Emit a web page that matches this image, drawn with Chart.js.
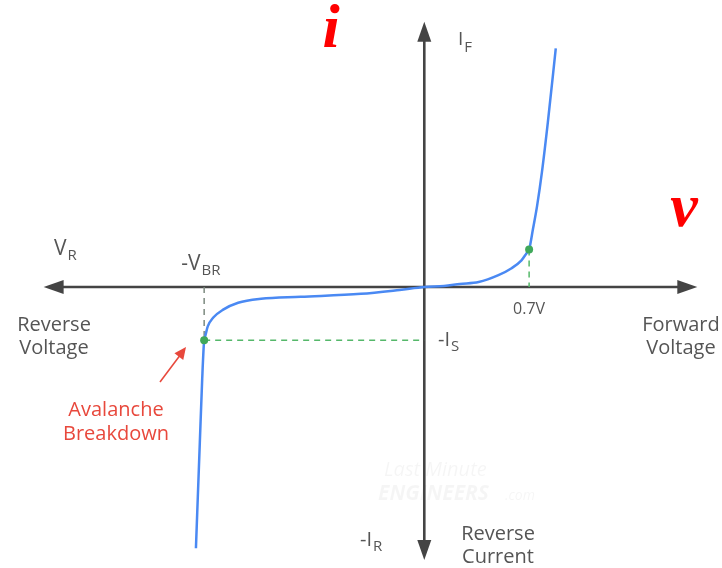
<!DOCTYPE html>
<html>
<head>
<meta charset="utf-8">
<title>Diode V-I characteristic</title>
<script src="https://cdn.jsdelivr.net/npm/chart.js@4.4.1/dist/chart.umd.min.js"></script>
<style>
  html, body { margin: 0; padding: 0; background: #ffffff; }
  #wrap { width: 722px; height: 568px; position: relative; }
</style>
</head>
<body>
<div id="wrap"><canvas id="ivChart" width="722" height="568"></canvas></div>
<script>
// Diode curve samples: voltage (V) and current (arbitrary units)
const curveVoltage = [-1.525, -1.499, -1.483, -1.47, -1.463, -1.446, -1.409, -1.343, -1.243, -1.09, -0.825, -0.423, -0.165, 0,
                      0.132, 0.238, 0.363, 0.495, 0.583, 0.649, 0.682, 0.7, 0.726, 0.753, 0.786, 0.825, 0.878];
const curveCurrent = [-26.5, -15.8, -9.3, -5.4, -5.0, -4.0, -3.1, -2.3, -1.6, -1.2, -1.0, -0.7, -0.3, 0,
                      0.1, 0.3, 0.5, 1.2, 1.9, 2.7, 3.4, 3.8, 5.9, 8.2, 11.7, 16.7, 24.2];

// Marked points: forward knee and avalanche breakdown
const kneeVoltage = 0.7;
const kneeCurrent = 3.8;
const breakdownVoltage = -1.47;
const saturationCurrent = -5.4;

// Axis extents (arrow tips)
const axisX = [-2.542, 1.823];
const axisY = [-27.7, 26.9];

const BLUE = '#4a89f3';
const GREEN = '#3fa85a';
const TEXT = '#555555';
const AXIS = '#444444';
const RED = '#e8483c';

const curvePoints = curveVoltage.map((v, i) => ({ x: v, y: curveCurrent[i] }));

function arrowHead(ctx, x1, y1, x2, y2, len, half) {
  const a = Math.atan2(y2 - y1, x2 - x1);
  ctx.beginPath();
  ctx.moveTo(x2, y2);
  ctx.lineTo(x2 - len * Math.cos(a) + half * Math.sin(a), y2 - len * Math.sin(a) - half * Math.cos(a));
  ctx.lineTo(x2 - len * Math.cos(a) - half * Math.sin(a), y2 - len * Math.sin(a) + half * Math.cos(a));
  ctx.closePath();
  ctx.fill();
}

// text with a subscript, left aligned at x
function subText(ctx, main, sub, x, y, size, subSize, drop) {
  ctx.textAlign = 'left';
  ctx.font = size + 'px "Open Sans"';
  ctx.fillText(main, x, y);
  const w = ctx.measureText(main).width;
  ctx.font = subSize + 'px "Open Sans"';
  ctx.fillText(sub, x + w + 1, y + drop);
}

function lines(ctx, arr, x, y, lh) {
  ctx.textAlign = 'center';
  arr.forEach((t, i) => ctx.fillText(t, x, y + i * lh));
}

const axesPlugin = {
  id: 'diodeAxes',
  beforeDatasetsDraw(chart) {
    const ctx = chart.ctx;
    const xs = chart.scales.x, ys = chart.scales.y;
    const x0 = xs.getPixelForValue(0), y0 = ys.getPixelForValue(0);
    ctx.save();

    // watermark
    ctx.fillStyle = 'rgba(0,0,0,0.04)';
    ctx.textAlign = 'left';
    ctx.font = 'italic 20px "Open Sans"';
    ctx.fillText('Last Minute', 384, 476);
    ctx.font = 'italic bold 21px "Open Sans"';
    ctx.fillText('ENGINEERS', 378, 500);
    ctx.font = 'italic 14px "Open Sans"';
    ctx.fillText('.com', 505, 500);

    // axes with arrows
    ctx.strokeStyle = AXIS;
    ctx.fillStyle = AXIS;
    ctx.lineWidth = 2.6;
    const xl = xs.getPixelForValue(axisX[0]), xr = xs.getPixelForValue(axisX[1]);
    const yt = ys.getPixelForValue(axisY[1]), yb = ys.getPixelForValue(axisY[0]);
    ctx.beginPath();
    ctx.moveTo(xl + 10, y0); ctx.lineTo(xr - 10, y0);
    ctx.moveTo(x0, yt + 10); ctx.lineTo(x0, yb - 10);
    ctx.stroke();
    arrowHead(ctx, x0, y0, xl, y0, 20, 7);
    arrowHead(ctx, x0, y0, xr, y0, 20, 7);
    arrowHead(ctx, x0, y0, x0, yt, 20, 7);
    arrowHead(ctx, x0, y0, x0, yb, 20, 7);
    ctx.restore();
  },
  afterDatasetsDraw(chart) {
    const ctx = chart.ctx;
    const xs = chart.scales.x, ys = chart.scales.y;
    ctx.save();
    ctx.textBaseline = 'alphabetic';

    // variable names
    ctx.fillStyle = '#ff0000';
    ctx.textAlign = 'center';
    ctx.font = 'italic bold 62px "Liberation Serif"';
    ctx.fillText('i', 331, 47);
    ctx.fillText('v', 684, 226);

    ctx.fillStyle = TEXT;
    subText(ctx, 'I', 'F', 458, 45, 19, 15, 7);
    subText(ctx, 'V', 'R', 54, 255, 21, 15, 5);
    const vbr = xs.getPixelForValue(breakdownVoltage);
    subText(ctx, '-V', 'BR', vbr - 23, 270, 21, 15, 5);
    const isY = ys.getPixelForValue(saturationCurrent);
    subText(ctx, '-I', 'S', 438, isY + 6, 20, 15, 5);
    subText(ctx, '-I', 'R', 360, 546, 20, 15, 5);

    ctx.font = '16px "Open Sans"';
    ctx.textAlign = 'center';
    ctx.fillText('0.7V', xs.getPixelForValue(kneeVoltage), 314);

    ctx.font = '20px "Open Sans"';
    lines(ctx, ['Reverse', 'Voltage'], 54, 331, 23);
    lines(ctx, ['Forward', 'Voltage'], 681, 331, 23);
    lines(ctx, ['Reverse', 'Current'], 498, 540, 23);

    ctx.fillStyle = RED;
    lines(ctx, ['Avalanche', 'Breakdown'], 116, 416, 24);

    // pointer to the breakdown point
    ctx.strokeStyle = RED;
    ctx.fillStyle = RED;
    ctx.lineWidth = 1.6;
    ctx.beginPath();
    ctx.moveTo(160, 382);
    ctx.lineTo(181, 354);
    ctx.stroke();
    arrowHead(ctx, 160, 382, 186, 347, 12, 5.5);
    ctx.restore();
  }
};

new Chart(document.getElementById('ivChart'), {
  type: 'scatter',
  data: {
    datasets: [
      {
        label: 'markers',
        data: [{ x: kneeVoltage, y: kneeCurrent }, { x: breakdownVoltage, y: saturationCurrent }],
        pointRadius: 4,
        pointBackgroundColor: GREEN,
        pointBorderWidth: 0,
        showLine: false
      },
      {
        label: 'I-V curve',
        data: curvePoints,
        showLine: true,
        borderColor: BLUE,
        borderWidth: 2.5,
        pointRadius: 0,
        cubicInterpolationMode: 'monotone'
      },
      {
        label: 'knee guide',
        data: [{ x: kneeVoltage, y: kneeCurrent }, { x: kneeVoltage, y: 0 }],
        showLine: true,
        borderColor: '#55b86a',
        borderWidth: 1.5,
        borderDash: [6, 5],
        pointRadius: 0
      },
      {
        label: 'saturation guide',
        data: [{ x: breakdownVoltage, y: saturationCurrent }, { x: 0, y: saturationCurrent }],
        showLine: true,
        borderColor: '#55b86a',
        borderWidth: 1.5,
        borderDash: [6, 5],
        pointRadius: 0
      },
      {
        label: 'breakdown guide',
        data: [{ x: breakdownVoltage, y: 0 }, { x: breakdownVoltage, y: saturationCurrent }],
        showLine: true,
        borderColor: '#7d8a80',
        borderWidth: 1.5,
        borderDash: [6, 5],
        pointRadius: 0
      }
    ]
  },
  options: {
    responsive: false,
    animation: false,
    layout: { padding: 0 },
    plugins: {
      legend: { display: false },
      tooltip: { enabled: false }
    },
    scales: {
      x: { type: 'linear', display: false, min: -2.8066, max: 1.9613 },
      y: { type: 'linear', display: false, min: -28.1, max: 28.7 }
    }
  },
  plugins: [axesPlugin]
});
</script>
</body>
</html>
